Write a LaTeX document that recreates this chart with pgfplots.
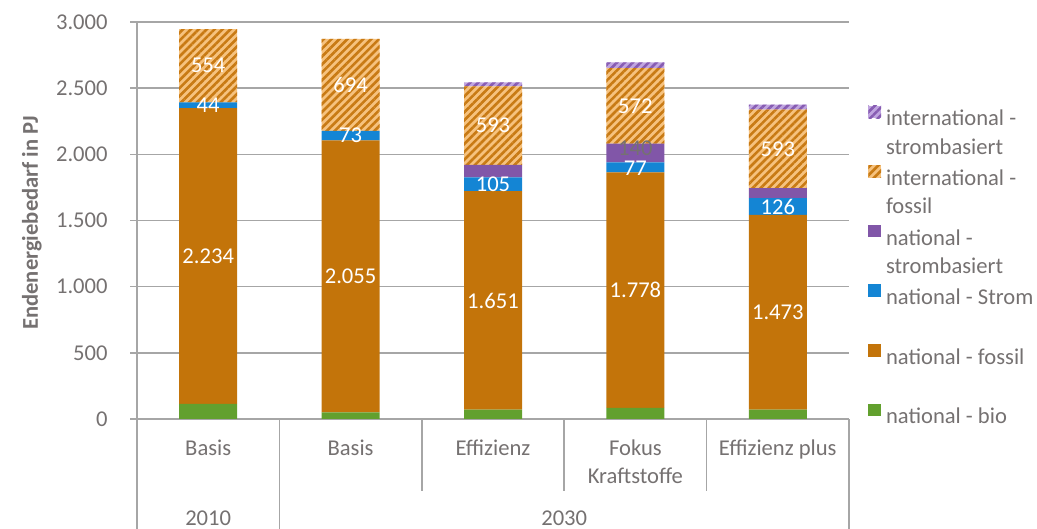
\documentclass[border=0pt]{standalone}
\usepackage{fontspec}
\setmainfont{Carlito}
\usepackage{pgfplots}
\usepackage{pgfplotstable}
\pgfplotsset{compat=1.18}
\usetikzlibrary{patterns.meta}

\definecolor{cbio}{RGB}{98,160,46}
\definecolor{cfos}{RGB}{195,116,10}
\definecolor{cstrom}{RGB}{20,133,212}
\definecolor{cnsb}{RGB}{129,86,168}
\definecolor{cifos}{RGB}{246,194,126}
\definecolor{cifosd}{RGB}{200,122,20}
\definecolor{cisb}{RGB}{192,165,224}
\definecolor{cisbd}{RGB}{135,92,178}
\definecolor{ctext}{RGB}{117,113,113}
\definecolor{cgrid}{RGB}{166,166,166}

\pgfplotstableread{
x bio fos strom nsb ifos isb
0 115 2234 44 0 554 0
1 50 2055 73 0 694 0
2 70 1651 105 95 593 30
3 85 1778 77 140 572 42
4 70 1473 126 75 593 38
}\datatable

\pgfplotstableread{
x y label
0 1232 2.234
0 2371 44
0 2670 554
1 1077 2.055
1 2141 73
1 2525 694
2 895 1.651
2 1773 105
2 2217 593
3 974 1.778
3 1898 77
3 2366 572
4 806 1.473
4 1606 126
4 2040 593
}\labtable

\begin{document}
\fontsize{11.3pt}{14.2pt}\selectfont
\begin{tikzpicture}
\useasboundingbox (0,0) rectangle (518.5pt,264.5pt);
\begin{axis}[
  at={(68.5pt,55pt)}, anchor=south west,
  scale only axis, width=356pt, height=198.5pt,
  xmin=-0.5, xmax=4.5, ymin=0, ymax=3000,
  ybar stacked, bar width=29pt,
  clip=false,
  axis line style={draw=none},
  ymajorgrids, grid style={cgrid, line width=0.8pt},
  ytick={0,500,...,3000},
  ytick pos=left, tick align=outside, major tick length=3.5pt,
  ytick style={cgrid, line width=0.8pt},
  xtick={0,1,2,3,4}, xtick style={draw=none},
  xticklabels={{\strut Basis},{\strut Basis},{\strut Effizienz},{\strut Fokus\\\strut Kraftstoffe},{\strut Effizienz plus}},
  xticklabel style={align=center, anchor=north, inner sep=0pt, yshift=-4.5pt, text=ctext},
  yticklabel style={anchor=east, inner sep=0pt, xshift=-11pt, text=ctext},
  /pgf/number format/1000 sep={.},
  /pgf/number format/assume math mode=true,
  ylabel={Endenergiebedarf in PJ},
  every axis y label/.style={at={(axis description cs:-0.1475,0.494)}, rotate=90, anchor=center, font=\bfseries, text=ctext},
  legend style={at={(axis description cs:1.0267,0.7906)}, anchor=north west, draw=none, fill=none, inner sep=0pt, row sep=18pt, column sep=2.5pt, nodes={inner sep=0pt, text=ctext}},
  legend cell align=left,
  reverse legend,
  every axis plot post/.append style={legend image code/.code={\path[##1, draw=none] (0pt,-0.3pt) rectangle (6.3pt,6pt);}},
]
\addplot[fill=cbio, draw=none] table[x=x,y=bio]{\datatable};
\addlegendentry{\parbox[t]{100pt}{\strut national - bio}}
\addplot[fill=cfos, draw=none] table[x=x,y=fos]{\datatable};
\addlegendentry{\parbox[t]{100pt}{\strut national - fossil}}
\addplot[fill=cstrom, draw=none] table[x=x,y=strom]{\datatable};
\addlegendentry{\parbox[t]{100pt}{\strut national - Strom}}
\addplot[fill=cnsb, draw=none] table[x=x,y=nsb]{\datatable};
\addlegendentry{\parbox[t]{100pt}{\strut national -\\\strut strombasiert}}
\addplot[fill=cifos, draw=none, postaction={pattern={Lines[angle=45,distance=2.8pt,line width=1.3pt]}, pattern color=cifosd}] table[x=x,y=ifos]{\datatable};
\addlegendentry{\parbox[t]{100pt}{\strut international -\\\strut fossil}}
\addplot[fill=cisb, draw=none, postaction={pattern={Lines[angle=45,distance=2.8pt,line width=1.3pt]}, pattern color=cisbd}] table[x=x,y=isb]{\datatable};
\addlegendentry{\parbox[t]{100pt}{\strut international -\\\strut strombasiert}}

\draw[cgrid, line width=0.8pt] (axis cs:-0.5,3000) -- (axis cs:-0.5,-860);
\draw[cgrid, line width=0.8pt] (axis cs:-0.5,0) -- (axis cs:4.5,0);
\draw[cgrid, line width=0.8pt] (axis cs:0.5,0) -- (axis cs:0.5,-860);
\draw[cgrid, line width=0.8pt] (axis cs:4.5,0) -- (axis cs:4.5,-860);
\draw[cgrid, line width=0.8pt] (axis cs:1.5,0) -- (axis cs:1.5,-544);
\draw[cgrid, line width=0.8pt] (axis cs:2.5,0) -- (axis cs:2.5,-544);
\draw[cgrid, line width=0.8pt] (axis cs:3.5,0) -- (axis cs:3.5,-544);
\node[anchor=base, text=ctext, inner sep=0pt] at (axis cs:0,-806) {2010};
\node[anchor=base, text=ctext, inner sep=0pt] at (axis cs:2.5,-806) {2030};
\end{axis}

\begin{axis}[
  at={(68.5pt,55pt)}, anchor=south west,
  scale only axis, width=356pt, height=198.5pt,
  xmin=-0.5, xmax=4.5, ymin=0, ymax=3000,
  hide axis, clip=false,
]
\addplot[only marks, mark=text, text mark={}, nodes near coords, point meta=explicit symbolic,
  every node near coord/.append style={anchor=center, text=white, inner sep=0pt}]
  table[x=x,y=y,meta=label]{\labtable};
\addplot[only marks, mark=text, text mark={}, nodes near coords, point meta=explicit symbolic,
  every node near coord/.append style={anchor=center, text=ctext, inner sep=0pt}]
  coordinates {(3,2045) [140]};
\end{axis}
\end{tikzpicture}
\end{document}
